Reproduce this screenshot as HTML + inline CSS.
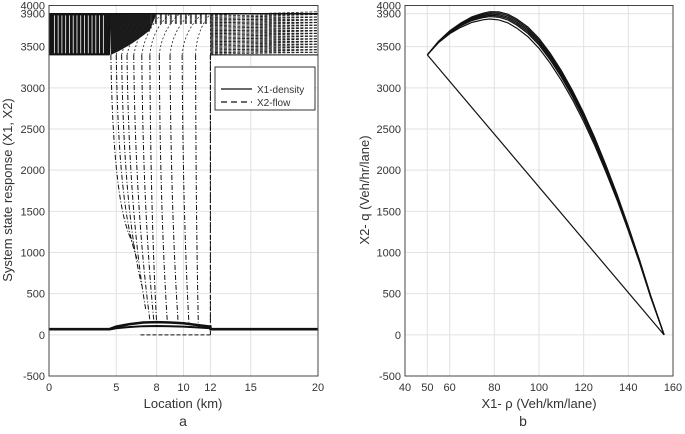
<!DOCTYPE html>
<html><head><meta charset="utf-8"><style>
body{margin:0;background:#fff;}
svg text{font-family:"Liberation Sans",sans-serif;fill:#333;}
</style></head><body>
<svg id="s" width="685" height="429" xmlns="http://www.w3.org/2000/svg"></svg>
<script>
// ---- data ----
const yTicks=[-500,0,500,1000,1500,2000,2500,3000,3500,3900,4000];
const xTicksA=[0,5,8,10,12,15,20];
const xTicksB=[40,50,60,80,100,120,140,160];
const flowTopX=[4.6,5.0,5.4,5.8,6.3,6.9,7.5,8.2,9.0,9.9,10.9,12.0];
const flowBotX=[6.3,6.6,6.9,7.2,7.5,7.8,8.0,8.8,9.6,10.4,11.1,12.0];
const flowBotY=[1100,900,600,300,180,160,150,150,150,150,150,150];
const densX=[0,4.5,5,6,7,8,9,10,11,12,12.01,20];
const densY=[70,70,100,130,150,155,150,140,120,100,70,70];
const fdRho=[50,55,60,65,70,75,78,82,86,90,95,100,105,110,115,120,125,130,135,140,145,150,156];
const fdQ=[3400,3560,3680,3770,3840,3880,3895,3890,3860,3800,3700,3560,3380,3170,2930,2660,2360,2030,1680,1300,900,470,0];
const fdOffsets=[0,-40,-80,40,-20,20];
const chordRho=[50,156];
const chordQ=[3400,0];
// ---- helpers ----
const S=document.getElementById('s');const NS='http://www.w3.org/2000/svg';
function mk(t,a,p){const e=document.createElementNS(NS,t);for(const k in a)e.setAttribute(k,a[k]);(p||S).appendChild(e);return e;}
const yT=5.5,yB=376;
function Y(v){return yB-(v+500)/4500*(yB-yT);}
function XA(v){return 49+v/20*(318-49);}
function XB(v){return 405+(v-40)/120*(673-405);}
function axes(X,x0,x1,ticks,name){
  const g=mk('g',{});
  
  
  mk('rect',{x:X(x0),y:yT,width:X(x1)-X(x0),height:yB-yT,fill:'#fff',stroke:'none'},g);
  yTicks.forEach(v=>{mk('line',{x1:X(x0),x2:X(x1),y1:Y(v),y2:Y(v),stroke:'#e2e2e2','stroke-width':1},g);
    const t=mk('text',{x:X(x0)-4,y:Y(v)+4,'text-anchor':'end','font-size':11},g);t.textContent=v;
    });
  ticks.forEach(v=>{mk('line',{x1:X(v),x2:X(v),y1:yT,y2:yB,stroke:'#e2e2e2','stroke-width':1},g);
    const t=mk('text',{x:X(v),y:yB+15,'text-anchor':'middle','font-size':11},g);t.textContent=v;
    });
  return g;
}
function frame(X,x0,x1){mk('rect',{x:X(x0),y:yT,width:X(x1)-X(x0),height:yB-yT,fill:'none',stroke:'#444','stroke-width':1});}
// ---- Panel a ----
axes(XA,0,20,xTicksA,'panel-a-axes');
const ga=mk('g',{});


mk('rect',{x:XA(0),y:Y(3900),width:XA(4.5)-XA(0),height:Y(3400)-Y(3900),fill:'#151515'},ga);
for(let i=0;i<14;i++){const x=XA(0.4+i*0.28);mk('line',{x1:x,x2:x,y1:Y(3880),y2:Y(3420),stroke:'#fff','stroke-width':0.8},ga);}
mk('path',{d:`M${XA(4.5)},${Y(3900)} L${XA(8)},${Y(3900)} L${XA(7.5)},${Y(3700)} Q${XA(6)},${Y(3500)} ${XA(4.6)},${Y(3400)} Z`,fill:'#1a1a1a'},ga);
for(let i=0;i<45;i++){const yv=3400+i*11;mk('line',{x1:XA(12),x2:XA(20),y1:Y(yv),y2:Y(yv+(i%3)*20),stroke:'#222','stroke-width':0.8,'stroke-dasharray':'3,1.5'},ga);}
for(let i=0;i<12;i++){const yv=3780+i*10;mk('line',{x1:XA(7.5),x2:XA(12),y1:Y(yv),y2:Y(yv),stroke:'#333','stroke-width':0.7,'stroke-dasharray':'2,3'},ga);}
mk('line',{x1:XA(0),x2:XA(20),y1:Y(3900),y2:Y(3900),stroke:'#111','stroke-width':1.5},ga);
mk('line',{x1:XA(0),x2:XA(4.5),y1:Y(3400),y2:Y(3400),stroke:'#111','stroke-width':1},ga);
mk('line',{x1:XA(12),x2:XA(20),y1:Y(3400),y2:Y(3400),stroke:'#111','stroke-width':1},ga);
flowTopX.forEach((xt,i)=>{
  const xb=flowBotX[i],yb=flowBotY[i];
  const cx=XA(xt)+(XA(xb)-XA(xt))*0.1,cy=Y(1500);
  const p=mk('path',{d:`M${XA(xt)},${Y(3400)} Q${cx},${cy} ${XA(xb)},${Y(yb)}`,fill:'none',stroke:'#111','stroke-width':1,'stroke-dasharray':'5,2,1,2'},ga);
  
  
  mk('path',{d:`M${XA(xt)},${Y(3400)} Q${XA(xt)+(XA(xb)-XA(xt))*0.3},${Y(3700)} ${XA(Math.min(xt+1.5,12))},${Y(3900)}`,fill:'none',stroke:'#222','stroke-width':0.8,'stroke-dasharray':'2,2'},ga);
});
mk('line',{x1:XA(12),x2:XA(12),y1:Y(3400),y2:Y(0),stroke:'#111','stroke-width':1,'stroke-dasharray':'4,2'},ga);
mk('line',{x1:XA(4.5),x2:XA(4.5),y1:Y(3400),y2:Y(3900),stroke:'#111','stroke-width':1},ga);
mk('line',{x1:XA(6.8),x2:XA(12),y1:Y(0),y2:Y(0),stroke:'#111','stroke-width':1,'stroke-dasharray':'4,2'},ga);
const dl=mk('polyline',{points:densX.map((x,i)=>XA(x)+','+Y(densY[i])).join(' '),fill:'none',stroke:'#111','stroke-width':2.5});


mk('polyline',{points:densX.map((x,i)=>XA(x)+','+Y(densY[i]*0.5+30)).join(' '),fill:'none',stroke:'#111','stroke-width':2});
frame(XA,0,20);
const lg=mk('g',{});


mk('rect',{x:215,y:67,width:100,height:43,fill:'#fff',stroke:'#333','stroke-width':1},lg);
mk('line',{x1:221,x2:252,y1:89,y2:89,stroke:'#111','stroke-width':1.2},lg);
mk('line',{x1:221,x2:252,y1:102,y2:102,stroke:'#111','stroke-width':1.2,'stroke-dasharray':'6,4'},lg);
let t=mk('text',{x:257,y:93,'font-size':10},lg);t.textContent='X1-density';

t=mk('text',{x:257,y:106,'font-size':10},lg);t.textContent='X2-flow';

t=mk('text',{x:183,y:408,'text-anchor':'middle','font-size':13});t.textContent='Location (km)';

t=mk('text',{x:0,y:0,'text-anchor':'middle','font-size':13,transform:`translate(12,190) rotate(-90)`});t.textContent='System state response (X1, X2)';

t=mk('text',{x:183,y:426,'text-anchor':'middle','font-size':14});t.textContent='a';

// ---- Panel b ----
axes(XB,40,160,xTicksB,'panel-b-axes');
fdOffsets.forEach(o=>{
  const pl=mk('polyline',{points:fdRho.map((r,i)=>XB(r)+','+Y(fdQ[i]+o*Math.sin(Math.PI*(r-50)/106))).join(' '),fill:'none',stroke:'#111','stroke-width':1.2});
  
  
});
const ch=mk('polyline',{points:chordRho.map((r,i)=>XB(r)+','+Y(chordQ[i])).join(' '),fill:'none',stroke:'#111','stroke-width':1.2});


frame(XB,40,160);
t=mk('text',{x:539,y:408,'text-anchor':'middle','font-size':13});t.textContent='X1- ρ (Veh/km/lane)';

t=mk('text',{x:0,y:0,'text-anchor':'middle','font-size':13,transform:`translate(369,190) rotate(-90)`});t.textContent='X2- q (Veh/hr/lane)';

t=mk('text',{x:523,y:426,'text-anchor':'middle','font-size':14});t.textContent='b';

</script>
</body></html>
